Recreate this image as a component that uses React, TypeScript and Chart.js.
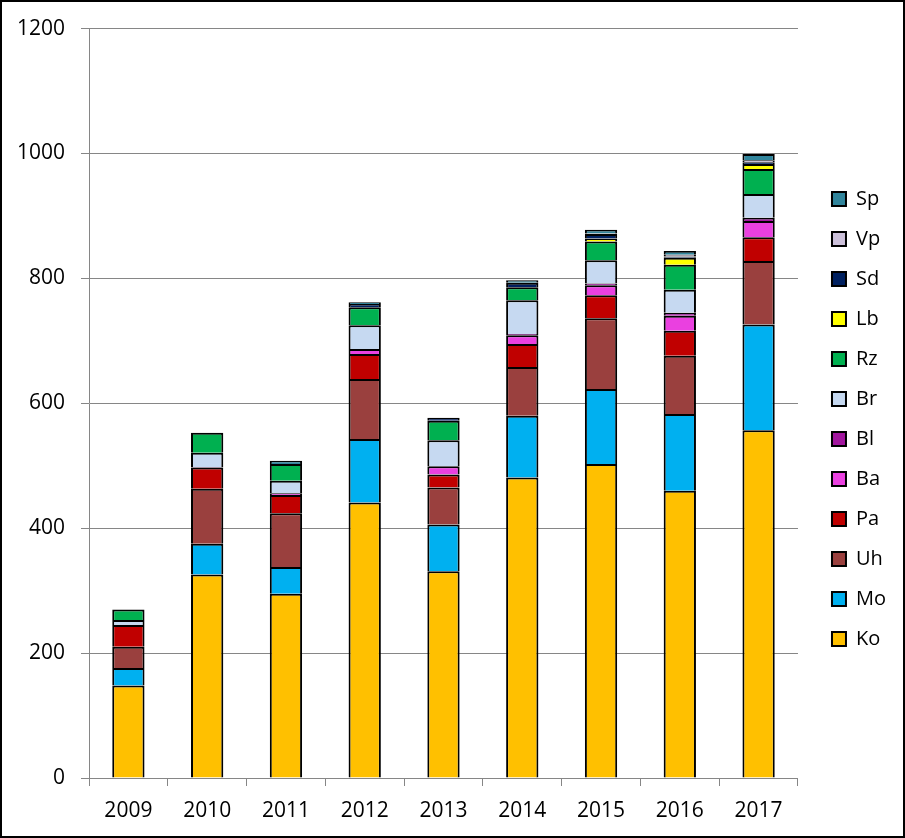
import React, { useEffect, useRef } from "react";
import { Chart, registerables } from "chart.js";

Chart.register(...registerables);

const years = ["2009", "2010", "2011", "2012", "2013", "2014", "2015", "2016", "2017"];

// series values (stacked from bottom: Ko ... Sp)
const Ko = [148, 326, 295, 441, 331, 481, 503, 460, 557];
const Mo = [28, 49, 43, 102, 75, 99, 120, 123, 169];
const Uh = [34, 88, 86, 96, 59, 78, 113, 93, 102];
const Pa = [35, 34, 29, 40, 21, 37, 37, 40, 38];
const Ba = [0, 0, 3, 8, 13, 14, 16, 24, 26];
const Bl = [0, 1, 0, 0, 0, 2, 3, 5, 5];
const Br = [8, 23, 20, 38, 42, 54, 37, 37, 38];
const Rz = [17, 32, 27, 29, 31, 21, 30, 40, 40];
const Lb = [0, 0, 0, 0, 0, 0, 5, 11, 8];
const Sd = [0, 0, 0, 5, 5, 7, 7, 2, 3];
const Vp = [0, 0, 0, 0, 0, 0, 1, 3, 3];
const Sp = [0, 0, 5, 3, 0, 4, 6, 6, 10];

const seriesNames = ["Ko", "Mo", "Uh", "Pa", "Ba", "Bl", "Br", "Rz", "Lb", "Sd", "Vp", "Sp"];
const seriesValues = [Ko, Mo, Uh, Pa, Ba, Bl, Br, Rz, Lb, Sd, Vp, Sp];
const seriesColors = [
  "#FFC000",
  "#00B0F0",
  "#9A403E",
  "#C00000",
  "#EA40E0",
  "#A2169E",
  "#C6D9F1",
  "#00B050",
  "#FFFF00",
  "#002060",
  "#CCC0DA",
  "#31859C",
];

const yTicks = [0, 200, 400, 600, 800, 1000, 1200];

const FONT = "'Open Sans', 'DejaVu Sans', sans-serif";
const GRID = "#868686";

const framePlugin = {
  id: "frame",
  beforeDraw(chart: any) {
    const { ctx, width, height } = chart;
    ctx.save();
    ctx.fillStyle = "#ffffff";
    ctx.fillRect(0, 0, width, height);
    ctx.restore();
  },
  afterDraw(chart: any) {
    const { ctx, width, height } = chart;
    ctx.save();
    ctx.strokeStyle = "#000000";
    ctx.lineWidth = 2;
    ctx.strokeRect(1, 1, width - 2, height - 2);
    ctx.restore();
  },
};

export default function App() {
  const ref = useRef<HTMLCanvasElement | null>(null);

  useEffect(() => {
    document.body.style.margin = "0";
    const canvas = ref.current;
    if (!canvas) return;
    const chart = new Chart(canvas, {
      type: "bar",
      data: {
        labels: years,
        datasets: seriesNames.map((name, i) => ({
          label: name,
          data: seriesValues[i].map((v) => (v === 0 ? null : v)),
          backgroundColor: seriesColors[i],
          borderColor: "#000000",
          borderWidth: 2,
          barPercentage: 0.41,
          categoryPercentage: 1,
        })),
      },
      options: {
        responsive: false,
        animation: false,
        devicePixelRatio: 1,
        layout: { padding: { top: 0, right: 9, bottom: 0, left: 0 } },
        plugins: {
          title: {
            display: true,
            text: "",
            fullSize: false,
            padding: { top: 15, bottom: 0 },
            font: { size: 10, lineHeight: 1.2 },
          },
          legend: {
            position: "right",
            reverse: true,
            labels: {
              boxWidth: 14,
              boxHeight: 14,
              padding: 20,
              color: "#000000",
              font: { family: FONT, size: 20 },
            },
          },
          tooltip: { enabled: false },
        },
        scales: {
          x: {
            stacked: true,
            grid: {
              display: true,
              drawOnChartArea: false,
              drawTicks: true,
              tickLength: 8,
              color: GRID,
              offset: true,
            },
            border: { display: true, color: GRID, width: 1 },
            ticks: {
              color: "#000000",
              font: { family: FONT, size: 21 },
              padding: 12,
              maxRotation: 0,
            },
            afterFit: (s: any) => {
              s.height = 60;
            },
          },
          y: {
            stacked: true,
            min: 0,
            max: 1200,
            afterBuildTicks: (s: any) => {
              s.ticks = yTicks.map((v) => ({ value: v }));
            },
            grid: {
              color: GRID,
              drawTicks: true,
              tickLength: 8,
            },
            border: { display: true, color: GRID, width: 1 },
            ticks: {
              color: "#000000",
              font: { family: FONT, size: 21 },
              padding: 16,
              callback: (v: any) => String(v),
            },
            afterFit: (s: any) => {
              s.width = 89;
            },
          },
          yR: {
            position: "right",
            display: true,
            grid: { display: false, drawTicks: false },
            border: { display: false },
            ticks: { display: false },
            afterFit: (s: any) => {
              s.width = 14;
            },
          },
        },
      },
      plugins: [framePlugin],
    } as any);
    return () => chart.destroy();
  }, []);

  return (
    <div style={{ width: 905, height: 838 }}>
      <canvas ref={ref} width={905} height={838} style={{ display: "block" }} />
    </div>
  );
}
